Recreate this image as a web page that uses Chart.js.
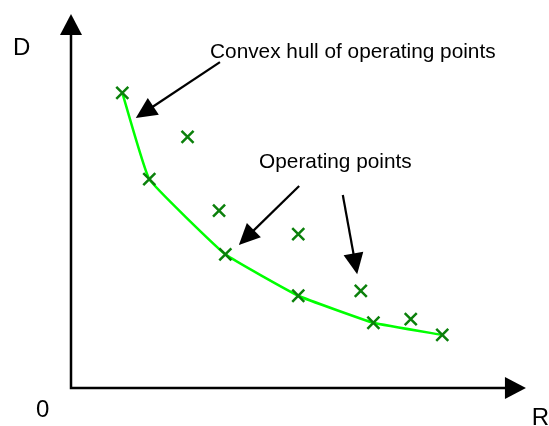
<!DOCTYPE html>
<html lang="en">
<head>
  <meta charset="UTF-8" />
  <title>Convex hull of operating points</title>
  <script src="https://cdn.jsdelivr.net/npm/chart.js"></script>
  <style>
    body { margin: 0; background: #fff; }
    #wrap { width: 549px; height: 426px; }
  </style>
</head>
<body>
  <div id="wrap"><canvas id="rdChart"></canvas></div>

  <script>
    // Operating points on the convex hull (rate R, distortion D)
    const hullR = [1.14, 1.74, 3.43, 5.05, 6.72, 8.25];
    const hullD = [6.56, 4.64, 2.97, 2.05, 1.45, 1.18];

    // Other operating points, above the hull
    const otherR = [2.59, 3.29, 5.05, 6.44, 7.55];
    const otherD = [5.58, 3.94, 3.42, 2.16, 1.53];

    // Axis ends (arrow tips), in data units
    const axisEndR = 10.11;
    const axisEndD = 8.31;

    // Labels and arrows, placed in data units
    const labels = [
      { text: 'D', r: -1.29, d: 7.40, size: 24 },
      { text: '0', r: -0.78, d: -0.64, size: 24 },
      { text: 'R', r: 10.24, d: -0.82, size: 24 },
      { text: 'Convex hull of operating points', r: 3.09, d: 7.33, size: 20.8 },
      { text: 'Operating points', r: 4.18, d: 4.89, size: 20.8 }
    ];
    const arrows = [
      { from: [3.31, 7.24], to: [1.44, 6.00] },
      { from: [5.07, 4.49], to: [3.73, 3.18] },
      { from: [6.04, 4.29], to: [6.36, 2.53] }
    ];

    const toXY = (rs, ds) => rs.map((r, i) => ({ x: r, y: ds[i] }));

    function arrowHead(ctx, x1, y1, x2, y2, len, half) {
      const a = Math.atan2(y2 - y1, x2 - x1);
      ctx.beginPath();
      ctx.moveTo(x2, y2);
      ctx.lineTo(x2 - len * Math.cos(a) + half * Math.sin(a), y2 - len * Math.sin(a) - half * Math.cos(a));
      ctx.lineTo(x2 - len * Math.cos(a) - half * Math.sin(a), y2 - len * Math.sin(a) + half * Math.cos(a));
      ctx.closePath();
      ctx.fill();
    }

    function arrow(ctx, x1, y1, x2, y2, width, len, half) {
      const a = Math.atan2(y2 - y1, x2 - x1);
      ctx.lineWidth = width;
      ctx.beginPath();
      ctx.moveTo(x1, y1);
      ctx.lineTo(x2 - (len - 2) * Math.cos(a), y2 - (len - 2) * Math.sin(a));
      ctx.stroke();
      arrowHead(ctx, x1, y1, x2, y2, len, half);
    }

    // axes with arrow heads under the data, annotations on top
    const axesPlugin = {
      id: 'axes',
      beforeDatasetsDraw(chart) {
        const ctx = chart.ctx;
        const xs = chart.scales.x, ys = chart.scales.y;
        const ox = xs.getPixelForValue(0), oy = ys.getPixelForValue(0);
        ctx.save();
        ctx.strokeStyle = '#000';
        ctx.fillStyle = '#000';
        ctx.beginPath();
        ctx.lineWidth = 2.5;
        ctx.moveTo(ox, oy);
        ctx.lineTo(ox, ys.getPixelForValue(axisEndD) + 18);
        ctx.moveTo(ox - 1.25, oy);
        ctx.lineTo(xs.getPixelForValue(axisEndR) - 18, oy);
        ctx.stroke();
        arrowHead(ctx, ox, oy, ox, ys.getPixelForValue(axisEndD), 21, 11);
        arrowHead(ctx, ox, oy, xs.getPixelForValue(axisEndR), oy, 21, 11);
        ctx.restore();
      },
      afterDatasetsDraw(chart) {
        const ctx = chart.ctx;
        const xs = chart.scales.x, ys = chart.scales.y;
        ctx.save();
        ctx.strokeStyle = '#000';
        ctx.fillStyle = '#000';
        arrows.forEach(a => {
          arrow(ctx,
            xs.getPixelForValue(a.from[0]), ys.getPixelForValue(a.from[1]),
            xs.getPixelForValue(a.to[0]), ys.getPixelForValue(a.to[1]),
            2.2, 21, 10);
        });
        ctx.textAlign = 'left';
        ctx.textBaseline = 'alphabetic';
        labels.forEach(l => {
          ctx.font = l.size + 'px "Liberation Sans", Arial, sans-serif';
          ctx.fillText(l.text, xs.getPixelForValue(l.r), ys.getPixelForValue(l.d));
        });
        ctx.restore();
      }
    };

    const markerColor = '#0b800b';

    new Chart(document.getElementById('rdChart'), {
      type: 'scatter',
      data: {
        datasets: [
          {
            label: 'Convex hull',
            data: toXY(hullR, hullD),
            showLine: true,
            borderColor: '#00ff00',
            borderWidth: 2.5,
            tension: 0.1,
            pointStyle: 'crossRot',
            pointRadius: 8.5,
            pointBorderColor: markerColor,
            pointBorderWidth: 2.5,
            clip: false
          },
          {
            label: 'Operating points',
            data: toXY(otherR, otherD),
            showLine: false,
            pointStyle: 'crossRot',
            pointRadius: 8.5,
            borderColor: markerColor,
            pointBorderWidth: 2.5,
            clip: false
          }
        ]
      },
      options: {
        responsive: true,
        maintainAspectRatio: false,
        animation: false,
        events: [],
        layout: { padding: 0, autoPadding: false },
        plugins: {
          legend: { display: false },
          tooltip: { enabled: false }
        },
        scales: {
          x: { type: 'linear', display: false, min: -71 / 45, max: 478 / 45 },
          y: { type: 'linear', display: false, min: -38 / 45, max: 388 / 45 }
        }
      },
      plugins: [axesPlugin]
    });
  </script>
</body>
</html>
